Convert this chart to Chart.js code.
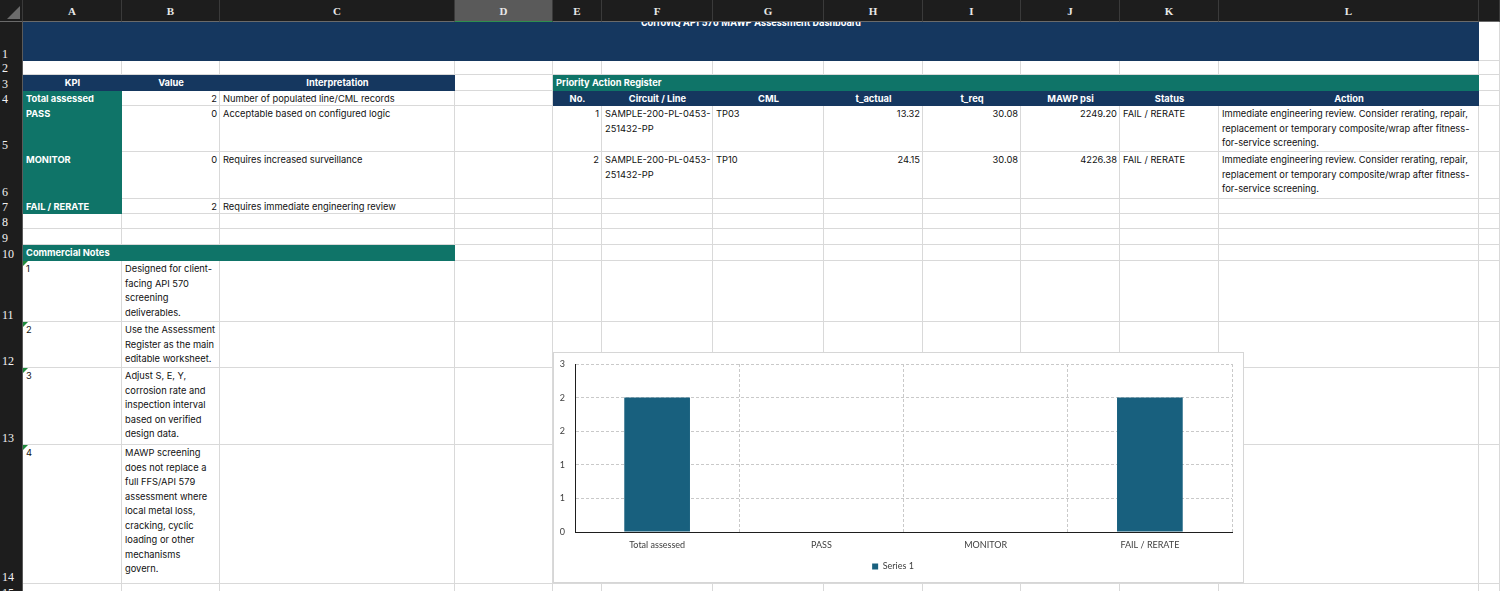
<!DOCTYPE html>
<html>
<head>
<meta charset="utf-8">
<title>CorroviQ API 570 MAWP Assessment Dashboard</title>
<script src="https://cdn.jsdelivr.net/npm/chart.js@4.4.1/dist/chart.umd.min.js"></script>
<style>
html, body { margin: 0; padding: 0; width: 1500px; height: 591px; overflow: hidden; background: #fff; }
#sheet { position: relative; width: 1500px; height: 591px; overflow: hidden;
  font-family: Inter, Roboto, 'Liberation Sans', sans-serif; font-size: 9.3px; color: #111; }
.c { position: absolute; box-sizing: border-box; overflow: hidden; white-space: nowrap;
  padding: 1px 3px 0 3px; line-height: 14.5px; }
.grid { border-right: 1px solid #d9d9d9; border-bottom: 1px solid #d9d9d9; background: #fff; padding: 0; }
.hdr { background: #1d1d1d; color: #e8e8e8; font-family: 'Liberation Serif', serif; font-weight: bold;
  font-size: 11px; text-align: center; line-height: 22px; border-right: 1px solid #3a3a3a;
  border-bottom: 1px solid #6a6a6a; padding: 0; }
.hdr.sel { background: #5a5a5a; border-bottom: 1px solid #2f8f4e; }
.rn { background: #1d1d1d; color: #f2f2f2; font-family: 'Liberation Serif', serif;
  font-size: 12px; line-height: 12px; padding: 0 0 1px 2px; display: flex; align-items: flex-end;
  border-right: 1px solid #5a5a5a; }
.corner { background: #1d1d1d; padding: 0; border-right: 1px solid #3a3a3a; border-bottom: 1px solid #6a6a6a; }
.corner::after { content: ''; position: absolute; right: 2px; bottom: 2px; border-bottom: 13px solid #6b6b6b;
  border-left: 13px solid transparent; }
.navy { background: #15375f; color: #fff; font-weight: bold; text-align: center; }
.teal { background: #0f7468; color: #fff; font-weight: bold; }
.r { text-align: right; }
.tri::before { content: ''; position: absolute; left: 0; top: 0; border-top: 5px solid #1f8a3c;
  border-right: 5px solid transparent; }
.title { padding: 0; }
.title span { position: absolute; left: 0; right: 0; top: -5px; text-align: center; font-family: Roboto, sans-serif;
  font-size: 10px; line-height: 12px; }
#chartBox { position: absolute; left: 553px; top: 352px; width: 691px; height: 231px; box-sizing: border-box;
  border: 1px solid #d6d6d6; background: #fff; }
#chartWrap { position: absolute; left: 0; top: 0; width: 689px; height: 229px; }
</style>
</head>
<body>
<div id="sheet">
  <div id="chartBox"><div id="chartWrap"><canvas id="kpiChart"></canvas></div></div>
</div>
<script>
// chart data
const categories = ['Total assessed', 'PASS', 'MONITOR', 'FAIL / RERATE'];
const seriesValues = [2, 0, 0, 2];
const seriesName = 'Series 1';
const yTickLabels = ['0', '1', '1', '2', '2', '3'];

// sheet layout (column / row edges in px)
const colX = [0, 23, 122, 220, 455, 553, 602, 713, 824, 923, 1021, 1120, 1219, 1479, 1500];
const rowY = [0, 22, 61, 75, 91, 106, 152, 199, 214, 229, 245, 261, 322, 368, 445, 584, 600];
const colLetters = ['A', 'B', 'C', 'D', 'E', 'F', 'G', 'H', 'I', 'J', 'K', 'L', ''];

const sheet = document.getElementById('sheet');
const chartBox = document.getElementById('chartBox');

function cell(c, r, text, cls, cs, rs) {
    cs = cs || 1; rs = rs || 1;
    const d = document.createElement('div');
    d.className = 'c ' + (cls || '');
    d.style.left = colX[c] + 'px';
    d.style.top = rowY[r] + 'px';
    d.style.width = (colX[c + cs] - colX[c]) + 'px';
    d.style.height = (rowY[r + rs] - rowY[r]) + 'px';
    if (Array.isArray(text)) {
        text.forEach(t => {
            const line = document.createElement('div');
            line.textContent = t;
            d.appendChild(line);
        });
    } else if (text !== undefined && text !== '') {
        d.textContent = text;
    }
    sheet.insertBefore(d, chartBox);
    return d;
}

// empty grid
for (let r = 1; r < rowY.length - 1; r++) {
    for (let c = 1; c < colX.length - 1; c++) cell(c, r, '', 'grid');
}
// headers
cell(0, 0, '', 'corner');
for (let c = 1; c < colX.length - 1; c++) cell(c, 0, colLetters[c - 1], 'hdr' + (c === 4 ? ' sel' : ''));
for (let r = 1; r < rowY.length - 1; r++) cell(0, r, String(r), 'rn');

// title band
const t = cell(1, 1, '', 'navy title', 12);
const ts = document.createElement('span');
ts.textContent = 'CorroviQ API 570 MAWP Assessment Dashboard';
t.appendChild(ts);

// KPI block
cell(1, 3, 'KPI', 'navy');
cell(2, 3, 'Value', 'navy');
cell(3, 3, 'Interpretation', 'navy');
const kpiNames = ['Total assessed', 'PASS', 'MONITOR', 'FAIL / RERATE'];
const kpiValues = ['2', '0', '0', '2'];
const kpiNotes = ['Number of populated line/CML records', 'Acceptable based on configured logic',
    'Requires increased surveillance', 'Requires immediate engineering review'];
kpiNames.forEach((k, i) => {
    cell(1, 4 + i, k, 'teal');
    cell(2, 4 + i, kpiValues[i], 'r');
    cell(3, 4 + i, kpiNotes[i], '');
});

// priority action register
cell(5, 3, 'Priority Action Register', 'teal', 8);
['No.', 'Circuit / Line', 'CML', 't_actual', 't_req', 'MAWP psi', 'Status', 'Action']
    .forEach((h, i) => cell(5 + i, 4, h, 'navy'));
const actionText = ['Immediate engineering review. Consider rerating, repair,',
    'replacement or temporary composite/wrap after fitness-', 'for-service screening.'];
const regRows = [
    ['1', ['SAMPLE-200-PL-0453-', '251432-PP'], 'TP03', '13.32', '30.08', '2249.20', 'FAIL / RERATE'],
    ['2', ['SAMPLE-200-PL-0453-', '251432-PP'], 'TP10', '24.15', '30.08', '4226.38', 'FAIL / RERATE']
];
regRows.forEach((row, i) => {
    const r = 5 + i;
    cell(5, r, row[0], 'r');
    cell(6, r, row[1], '');
    cell(7, r, row[2], '');
    cell(8, r, row[3], 'r');
    cell(9, r, row[4], 'r');
    cell(10, r, row[5], 'r');
    cell(11, r, row[6], '');
    cell(12, r, actionText, '');
});

// commercial notes
cell(1, 10, 'Commercial Notes', 'teal', 3);
const notes = [
    ['Designed for client-', 'facing API 570', 'screening', 'deliverables.'],
    ['Use the Assessment', 'Register as the main', 'editable worksheet.'],
    ['Adjust S, E, Y,', 'corrosion rate and', 'inspection interval', 'based on verified', 'design data.'],
    ['MAWP screening', 'does not replace a', 'full FFS/API 579', 'assessment where', 'local metal loss,',
        'cracking, cyclic', 'loading or other', 'mechanisms', 'govern.']
];
notes.forEach((n, i) => {
    cell(1, 11 + i, String(i + 1), 'tri');
    cell(2, 11 + i, n, '');
});

// chart
const barColor = '#18607e';
const textColor = '#404040';
const gridColor = '#c9c9c9';
const chartFont = { family: "Lato, 'Liberation Sans', sans-serif", size: 9 };

new Chart(document.getElementById('kpiChart').getContext('2d'), {
    type: 'bar',
    data: {
        labels: categories,
        datasets: [{
            label: seriesName,
            data: seriesValues,
            backgroundColor: barColor,
            borderWidth: 0,
            categoryPercentage: 0.8,
            barPercentage: 0.5
        }]
    },
    options: {
        responsive: true,
        maintainAspectRatio: false,
        animation: false,
        layout: { padding: { top: 11, right: 11, left: 0, bottom: 1 } },
        plugins: {
            legend: {
                position: 'bottom',
                labels: { boxWidth: 6, boxHeight: 6, padding: 8, color: textColor, font: chartFont }
            },
            tooltip: { enabled: false }
        },
        scales: {
            x: {
                grid: {
                    offset: true,
                    drawTicks: false,
                    color: c => (c.index === 0 ? 'transparent' : gridColor)
                },
                border: { color: '#1e1e1e', width: 1, dash: [3, 2], z: 1 },
                ticks: { color: textColor, font: chartFont, padding: 8 },
                afterFit: s => { s.height = 22; }
            },
            y: {
                min: 0,
                max: 2.5,
                grid: {
                    drawTicks: true,
                    tickLength: 8,
                    tickColor: 'transparent',
                    color: c => (c.index === 0 ? 'transparent' : gridColor)
                },
                border: { color: '#1e1e1e', width: 1, dash: [3, 2], z: 1 },
                ticks: {
                    stepSize: 0.5,
                    color: textColor,
                    font: chartFont,
                    padding: 2,
                    callback: (v, i) => yTickLabels[i]
                },
                afterFit: s => { s.width = 21; }
            }
        }
    }
});
</script>
</body>
</html>
